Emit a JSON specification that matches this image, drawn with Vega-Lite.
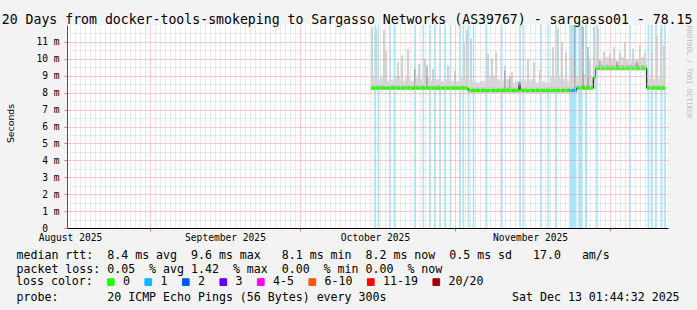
{
  "$schema": "https://vega.github.io/schema/vega-lite/v6.json",
  "width": 601,
  "height": 203,
  "autosize": {"type": "none"},
  "padding": {"left": 67, "top": 25, "right": 29, "bottom": 82},
  "background": "#f3f3f3",
  "view": {"fill": "#ffffff", "stroke": null},
  "title": {
    "text": "20 Days from docker-tools-smokeping to Sargasso Networks (AS39767) - sargasso01 - 78.15",
    "anchor": "start", "frame": "group", "dx": -65.3, "dy": 14.5, "offset": 1.7, "baseline": "alphabetic",
    "font": "DejaVu Sans Mono", "fontSize": 13.2, "fontWeight": "normal", "color": "#000000"
  },
  "datasets": {
    "loss": [
      {"t": "2025-09-30T20:00:00Z", "t2": "2025-10-01T04:00:00Z", "loss": "1"},
      {"t": "2025-10-01T11:50:00Z", "t2": "2025-10-01T19:50:00Z", "loss": "1"},
      {"t": "2025-10-03T20:00:00Z", "t2": "2025-10-04T04:00:00Z", "loss": "1"},
      {"t": "2025-10-04T17:36:00Z", "t2": "2025-10-05T01:36:00Z", "loss": "1"},
      {"t": "2025-10-08T20:00:00Z", "t2": "2025-10-09T04:00:00Z", "loss": "1"},
      {"t": "2025-10-10T11:50:00Z", "t2": "2025-10-10T19:50:00Z", "loss": "1"},
      {"t": "2025-10-11T20:00:00Z", "t2": "2025-10-12T04:00:00Z", "loss": "1"},
      {"t": "2025-10-12T20:00:00Z", "t2": "2025-10-13T04:00:00Z", "loss": "1"},
      {"t": "2025-10-13T20:00:00Z", "t2": "2025-10-14T04:00:00Z", "loss": "1"},
      {"t": "2025-10-14T20:00:00Z", "t2": "2025-10-15T04:00:00Z", "loss": "1"},
      {"t": "2025-10-15T22:24:00Z", "t2": "2025-10-16T06:24:00Z", "loss": "1"},
      {"t": "2025-10-17T20:00:00Z", "t2": "2025-10-18T04:00:00Z", "loss": "1"},
      {"t": "2025-10-18T11:50:00Z", "t2": "2025-10-18T19:50:00Z", "loss": "1"},
      {"t": "2025-10-19T12:48:00Z", "t2": "2025-10-19T20:48:00Z", "loss": "1"},
      {"t": "2025-10-20T12:48:00Z", "t2": "2025-10-20T20:48:00Z", "loss": "1"},
      {"t": "2025-10-23T03:12:00Z", "t2": "2025-10-23T11:12:00Z", "loss": "1"},
      {"t": "2025-10-26T04:10:00Z", "t2": "2025-10-26T12:10:00Z", "loss": "1"},
      {"t": "2025-10-29T20:00:00Z", "t2": "2025-10-30T04:00:00Z", "loss": "1"},
      {"t": "2025-10-30T11:50:00Z", "t2": "2025-10-30T19:50:00Z", "loss": "1"},
      {"t": "2025-11-03T00:48:00Z", "t2": "2025-11-03T08:48:00Z", "loss": "1"},
      {"t": "2025-11-04T11:50:00Z", "t2": "2025-11-04T19:50:00Z", "loss": "1"},
      {"t": "2025-11-06T00:48:00Z", "t2": "2025-11-06T08:48:00Z", "loss": "1"},
      {"t": "2025-11-08T20:38:00Z", "t2": "2025-11-10T07:12:00Z", "loss": "1"},
      {"t": "2025-11-10T15:50:00Z", "t2": "2025-11-11T12:00:00Z", "loss": "1"},
      {"t": "2025-11-12T00:00:00Z", "t2": "2025-11-12T09:36:00Z", "loss": "1"},
      {"t": "2025-11-14T05:36:00Z", "t2": "2025-11-14T13:36:00Z", "loss": "1"},
      {"t": "2025-11-20T20:00:00Z", "t2": "2025-11-21T04:00:00Z", "loss": "1"},
      {"t": "2025-11-24T11:50:00Z", "t2": "2025-11-24T19:50:00Z", "loss": "1"},
      {"t": "2025-11-25T05:36:00Z", "t2": "2025-11-25T13:36:00Z", "loss": "1"},
      {"t": "2025-11-26T00:48:00Z", "t2": "2025-11-26T08:48:00Z", "loss": "1"},
      {"t": "2025-11-27T04:10:00Z", "t2": "2025-11-27T12:10:00Z", "loss": "1"},
      {"t": "2025-11-27T20:00:00Z", "t2": "2025-11-28T04:00:00Z", "loss": "1"}
    ],
    "smoke": [
      {"t": "2025-09-30T04:48:00Z", "t2": "2025-10-01T00:00:00Z", "lo": 8.15, "mid": 8.5, "hi": 9.0},
      {"t": "2025-10-01T00:00:00Z", "t2": "2025-10-02T00:00:00Z", "lo": 8.15, "mid": 8.45, "hi": 8.8},
      {"t": "2025-10-02T00:00:00Z", "t2": "2025-10-03T00:00:00Z", "lo": 8.15, "mid": 8.45, "hi": 8.9},
      {"t": "2025-10-03T00:00:00Z", "t2": "2025-10-04T00:00:00Z", "lo": 8.15, "mid": 8.4, "hi": 8.7},
      {"t": "2025-10-04T00:00:00Z", "t2": "2025-10-05T00:00:00Z", "lo": 8.15, "mid": 8.45, "hi": 8.8},
      {"t": "2025-10-05T00:00:00Z", "t2": "2025-10-06T00:00:00Z", "lo": 8.15, "mid": 8.45, "hi": 9.0},
      {"t": "2025-10-06T00:00:00Z", "t2": "2025-10-07T00:00:00Z", "lo": 8.15, "mid": 8.4, "hi": 8.7},
      {"t": "2025-10-07T00:00:00Z", "t2": "2025-10-08T00:00:00Z", "lo": 8.15, "mid": 8.45, "hi": 8.9},
      {"t": "2025-10-08T00:00:00Z", "t2": "2025-10-09T00:00:00Z", "lo": 8.15, "mid": 8.4, "hi": 8.7},
      {"t": "2025-10-09T00:00:00Z", "t2": "2025-10-10T00:00:00Z", "lo": 8.15, "mid": 8.45, "hi": 8.9},
      {"t": "2025-10-10T00:00:00Z", "t2": "2025-10-11T00:00:00Z", "lo": 8.15, "mid": 8.45, "hi": 8.8},
      {"t": "2025-10-11T00:00:00Z", "t2": "2025-10-12T00:00:00Z", "lo": 8.15, "mid": 8.4, "hi": 8.9},
      {"t": "2025-10-12T00:00:00Z", "t2": "2025-10-13T00:00:00Z", "lo": 8.15, "mid": 8.4, "hi": 8.7},
      {"t": "2025-10-13T00:00:00Z", "t2": "2025-10-14T00:00:00Z", "lo": 8.15, "mid": 8.45, "hi": 8.8},
      {"t": "2025-10-14T00:00:00Z", "t2": "2025-10-15T00:00:00Z", "lo": 8.15, "mid": 8.4, "hi": 8.7},
      {"t": "2025-10-15T00:00:00Z", "t2": "2025-10-16T00:00:00Z", "lo": 8.15, "mid": 8.4, "hi": 8.8},
      {"t": "2025-10-16T00:00:00Z", "t2": "2025-10-17T00:00:00Z", "lo": 8.15, "mid": 8.4, "hi": 8.7},
      {"t": "2025-10-17T00:00:00Z", "t2": "2025-10-18T00:00:00Z", "lo": 8.15, "mid": 8.4, "hi": 8.7},
      {"t": "2025-10-18T00:00:00Z", "t2": "2025-10-19T00:00:00Z", "lo": 8.15, "mid": 8.45, "hi": 8.9},
      {"t": "2025-10-19T00:00:00Z", "t2": "2025-10-19T14:24:00Z", "lo": 8.15, "mid": 8.45, "hi": 9.0},
      {"t": "2025-10-19T14:24:00Z", "t2": "2025-10-20T00:00:00Z", "lo": 8.0, "mid": 8.3, "hi": 8.8},
      {"t": "2025-10-20T00:00:00Z", "t2": "2025-10-21T00:00:00Z", "lo": 8.0, "mid": 8.3, "hi": 8.7},
      {"t": "2025-10-21T00:00:00Z", "t2": "2025-10-22T00:00:00Z", "lo": 8.0, "mid": 8.3, "hi": 8.6},
      {"t": "2025-10-22T00:00:00Z", "t2": "2025-10-23T00:00:00Z", "lo": 8.0, "mid": 8.3, "hi": 8.7},
      {"t": "2025-10-23T00:00:00Z", "t2": "2025-10-24T00:00:00Z", "lo": 8.0, "mid": 8.35, "hi": 8.9},
      {"t": "2025-10-24T00:00:00Z", "t2": "2025-10-25T00:00:00Z", "lo": 8.0, "mid": 8.35, "hi": 9.0},
      {"t": "2025-10-25T00:00:00Z", "t2": "2025-10-26T00:00:00Z", "lo": 8.0, "mid": 8.3, "hi": 8.8},
      {"t": "2025-10-26T00:00:00Z", "t2": "2025-10-27T00:00:00Z", "lo": 8.0, "mid": 8.3, "hi": 8.7},
      {"t": "2025-10-27T00:00:00Z", "t2": "2025-10-28T00:00:00Z", "lo": 8.0, "mid": 8.3, "hi": 8.8},
      {"t": "2025-10-28T00:00:00Z", "t2": "2025-10-29T00:00:00Z", "lo": 8.0, "mid": 8.3, "hi": 8.6},
      {"t": "2025-10-29T00:00:00Z", "t2": "2025-10-30T00:00:00Z", "lo": 8.0, "mid": 8.3, "hi": 8.7},
      {"t": "2025-10-30T00:00:00Z", "t2": "2025-10-31T00:00:00Z", "lo": 8.0, "mid": 8.3, "hi": 8.8},
      {"t": "2025-10-31T00:00:00Z", "t2": "2025-11-01T00:00:00Z", "lo": 8.0, "mid": 8.3, "hi": 8.7},
      {"t": "2025-11-01T00:00:00Z", "t2": "2025-11-02T00:00:00Z", "lo": 8.0, "mid": 8.3, "hi": 8.8},
      {"t": "2025-11-02T00:00:00Z", "t2": "2025-11-03T00:00:00Z", "lo": 8.0, "mid": 8.3, "hi": 8.6},
      {"t": "2025-11-03T00:00:00Z", "t2": "2025-11-04T00:00:00Z", "lo": 8.0, "mid": 8.3, "hi": 8.7},
      {"t": "2025-11-04T00:00:00Z", "t2": "2025-11-05T00:00:00Z", "lo": 8.0, "mid": 8.3, "hi": 8.6},
      {"t": "2025-11-05T00:00:00Z", "t2": "2025-11-06T00:00:00Z", "lo": 8.0, "mid": 8.35, "hi": 8.9},
      {"t": "2025-11-06T00:00:00Z", "t2": "2025-11-07T00:00:00Z", "lo": 8.0, "mid": 8.35, "hi": 9.0},
      {"t": "2025-11-07T00:00:00Z", "t2": "2025-11-08T00:00:00Z", "lo": 8.0, "mid": 8.3, "hi": 8.8},
      {"t": "2025-11-08T00:00:00Z", "t2": "2025-11-09T00:00:00Z", "lo": 8.0, "mid": 8.3, "hi": 8.7},
      {"t": "2025-11-09T00:00:00Z", "t2": "2025-11-10T00:00:00Z", "lo": 8.0, "mid": 8.35, "hi": 8.9},
      {"t": "2025-11-10T00:00:00Z", "t2": "2025-11-10T08:10:00Z", "lo": 8.0, "mid": 8.35, "hi": 8.9},
      {"t": "2025-11-10T08:10:00Z", "t2": "2025-11-11T00:00:00Z", "lo": 8.15, "mid": 8.5, "hi": 9.0},
      {"t": "2025-11-11T00:00:00Z", "t2": "2025-11-12T00:00:00Z", "lo": 8.15, "mid": 8.5, "hi": 9.1},
      {"t": "2025-11-12T00:00:00Z", "t2": "2025-11-13T00:00:00Z", "lo": 8.15, "mid": 8.45, "hi": 8.9},
      {"t": "2025-11-13T00:00:00Z", "t2": "2025-11-13T15:50:00Z", "lo": 8.15, "mid": 8.45, "hi": 9.0},
      {"t": "2025-11-13T15:50:00Z", "t2": "2025-11-14T02:24:00Z", "lo": 8.2, "mid": 8.9, "hi": 9.6},
      {"t": "2025-11-14T02:24:00Z", "t2": "2025-11-15T00:00:00Z", "lo": 9.32, "mid": 9.65, "hi": 10.0},
      {"t": "2025-11-15T00:00:00Z", "t2": "2025-11-16T00:00:00Z", "lo": 9.32, "mid": 9.65, "hi": 9.9},
      {"t": "2025-11-16T00:00:00Z", "t2": "2025-11-17T00:00:00Z", "lo": 9.32, "mid": 9.65, "hi": 10.1},
      {"t": "2025-11-17T00:00:00Z", "t2": "2025-11-18T00:00:00Z", "lo": 9.32, "mid": 9.65, "hi": 10.0},
      {"t": "2025-11-18T00:00:00Z", "t2": "2025-11-19T00:00:00Z", "lo": 9.32, "mid": 9.65, "hi": 9.9},
      {"t": "2025-11-19T00:00:00Z", "t2": "2025-11-20T00:00:00Z", "lo": 9.32, "mid": 9.65, "hi": 10.1},
      {"t": "2025-11-20T00:00:00Z", "t2": "2025-11-21T00:00:00Z", "lo": 9.32, "mid": 9.65, "hi": 10.0},
      {"t": "2025-11-21T00:00:00Z", "t2": "2025-11-22T00:00:00Z", "lo": 9.32, "mid": 9.65, "hi": 9.9},
      {"t": "2025-11-22T00:00:00Z", "t2": "2025-11-23T00:00:00Z", "lo": 9.32, "mid": 9.65, "hi": 10.0},
      {"t": "2025-11-23T00:00:00Z", "t2": "2025-11-24T00:00:00Z", "lo": 9.32, "mid": 9.65, "hi": 10.1},
      {"t": "2025-11-24T00:00:00Z", "t2": "2025-11-24T08:10:00Z", "lo": 9.32, "mid": 9.65, "hi": 10.0},
      {"t": "2025-11-24T08:10:00Z", "t2": "2025-11-25T00:00:00Z", "lo": 8.15, "mid": 8.45, "hi": 8.9},
      {"t": "2025-11-25T00:00:00Z", "t2": "2025-11-26T00:00:00Z", "lo": 8.15, "mid": 8.45, "hi": 8.8},
      {"t": "2025-11-26T00:00:00Z", "t2": "2025-11-27T00:00:00Z", "lo": 8.15, "mid": 8.45, "hi": 8.9},
      {"t": "2025-11-27T00:00:00Z", "t2": "2025-11-28T00:00:00Z", "lo": 8.15, "mid": 8.45, "hi": 8.8}
    ],
    "spikes": [
      {"t": "2025-09-30T09:36:00Z", "lo": 8.2, "hi": 11.9},
      {"t": "2025-10-01T04:48:00Z", "lo": 8.2, "hi": 11.8},
      {"t": "2025-10-02T19:12:00Z", "lo": 8.2, "hi": 11.7},
      {"t": "2025-10-03T04:48:00Z", "lo": 8.2, "hi": 10.5},
      {"t": "2025-10-05T14:24:00Z", "lo": 8.2, "hi": 9.8},
      {"t": "2025-10-06T09:36:00Z", "lo": 8.2, "hi": 10.2},
      {"t": "2025-10-07T14:24:00Z", "lo": 8.2, "hi": 10.6},
      {"t": "2025-10-09T19:12:00Z", "lo": 8.2, "hi": 9.7},
      {"t": "2025-10-11T00:00:00Z", "lo": 8.2, "hi": 10.0},
      {"t": "2025-10-12T14:24:00Z", "lo": 8.2, "hi": 9.4},
      {"t": "2025-10-15T14:24:00Z", "lo": 8.2, "hi": 9.6},
      {"t": "2025-10-17T00:00:00Z", "lo": 8.2, "hi": 9.3},
      {"t": "2025-10-18T19:12:00Z", "lo": 8.2, "hi": 10.9},
      {"t": "2025-10-19T09:36:00Z", "lo": 8.2, "hi": 11.7},
      {"t": "2025-10-20T04:48:00Z", "lo": 8.05, "hi": 11.2},
      {"t": "2025-10-23T14:24:00Z", "lo": 8.05, "hi": 10.3},
      {"t": "2025-10-24T09:36:00Z", "lo": 8.05, "hi": 10.0},
      {"t": "2025-10-25T04:48:00Z", "lo": 8.05, "hi": 10.4},
      {"t": "2025-10-27T00:00:00Z", "lo": 8.05, "hi": 9.6},
      {"t": "2025-10-28T09:36:00Z", "lo": 8.05, "hi": 9.2},
      {"t": "2025-10-31T14:24:00Z", "lo": 8.05, "hi": 10.0},
      {"t": "2025-11-01T19:12:00Z", "lo": 8.05, "hi": 9.8},
      {"t": "2025-11-03T00:00:00Z", "lo": 8.05, "hi": 9.4},
      {"t": "2025-11-05T14:24:00Z", "lo": 8.05, "hi": 10.7},
      {"t": "2025-11-06T14:24:00Z", "lo": 8.05, "hi": 11.8},
      {"t": "2025-11-07T09:36:00Z", "lo": 8.05, "hi": 11.0},
      {"t": "2025-11-08T04:48:00Z", "lo": 8.05, "hi": 10.4},
      {"t": "2025-11-09T09:36:00Z", "lo": 8.05, "hi": 10.2},
      {"t": "2025-11-11T00:00:00Z", "lo": 8.2, "hi": 10.6},
      {"t": "2025-11-13T00:00:00Z", "lo": 8.2, "hi": 10.0},
      {"t": "2025-11-13T19:12:00Z", "lo": 8.2, "hi": 11.9},
      {"t": "2025-11-14T14:24:00Z", "lo": 9.4, "hi": 11.8},
      {"t": "2025-11-15T19:12:00Z", "lo": 9.4, "hi": 10.4},
      {"t": "2025-11-17T00:00:00Z", "lo": 9.4, "hi": 10.3},
      {"t": "2025-11-17T19:12:00Z", "lo": 9.4, "hi": 10.7},
      {"t": "2025-11-19T00:00:00Z", "lo": 9.4, "hi": 10.4},
      {"t": "2025-11-20T00:00:00Z", "lo": 9.4, "hi": 11.0},
      {"t": "2025-11-21T14:24:00Z", "lo": 9.4, "hi": 10.6},
      {"t": "2025-11-23T00:00:00Z", "lo": 9.4, "hi": 10.8},
      {"t": "2025-11-24T00:00:00Z", "lo": 9.4, "hi": 10.4},
      {"t": "2025-11-25T09:36:00Z", "lo": 8.2, "hi": 10.4},
      {"t": "2025-11-26T09:36:00Z", "lo": 8.2, "hi": 11.4},
      {"t": "2025-11-27T04:48:00Z", "lo": 8.2, "hi": 11.7},
      {"t": "2025-11-27T19:12:00Z", "lo": 8.2, "hi": 10.8}
    ],
    "darkspikes": [
      {"t": "2025-10-09T00:00:00Z", "lo": 8.28, "hi": 9.4},
      {"t": "2025-10-11T09:36:00Z", "lo": 8.28, "hi": 9.6},
      {"t": "2025-10-27T00:00:00Z", "lo": 8.13, "hi": 9.3},
      {"t": "2025-10-28T00:00:00Z", "lo": 8.13, "hi": 9.0},
      {"t": "2025-11-10T00:00:00Z", "lo": 8.13, "hi": 12.0},
      {"t": "2025-11-11T14:24:00Z", "lo": 8.28, "hi": 11.9},
      {"t": "2025-11-12T14:24:00Z", "lo": 8.28, "hi": 10.7},
      {"t": "2025-11-15T00:00:00Z", "lo": 9.46, "hi": 9.9},
      {"t": "2025-11-18T09:36:00Z", "lo": 9.46, "hi": 9.8},
      {"t": "2025-11-22T09:36:00Z", "lo": 9.46, "hi": 9.8}
    ],
    "median": [
      {"t": "2025-09-30T04:48:00Z", "t2": "2025-10-19T14:24:00Z", "ms": 8.28, "loss": "0"},
      {"t": "2025-10-19T14:24:00Z", "t2": "2025-10-29T19:12:00Z", "ms": 8.13, "loss": "0"},
      {"t": "2025-10-29T19:12:00Z", "t2": "2025-10-30T02:24:00Z", "ms": 8.55, "loss": "1"},
      {"t": "2025-10-30T02:24:00Z", "t2": "2025-11-08T19:12:00Z", "ms": 8.13, "loss": "0"},
      {"t": "2025-11-08T19:12:00Z", "t2": "2025-11-10T08:10:00Z", "ms": 8.13, "loss": "1"},
      {"t": "2025-11-10T08:10:00Z", "t2": "2025-11-13T15:50:00Z", "ms": 8.28, "loss": "0"},
      {"t": "2025-11-13T15:50:00Z", "t2": "2025-11-14T02:24:00Z", "ms": 8.88, "loss": "0"},
      {"t": "2025-11-14T02:24:00Z", "t2": "2025-11-24T08:10:00Z", "ms": 9.46, "loss": "0"},
      {"t": "2025-11-24T08:10:00Z", "t2": "2025-11-28T00:00:00Z", "ms": 8.28, "loss": "0"},
      {"t": "2025-11-28T00:00:00Z", "t2": "2025-11-28T00:00:00Z", "ms": 8.28, "loss": "0"}
    ]
  },
  "encoding": {
    "x": {
      "field": "t", "type": "temporal", "axis": null,
      "scale": {"type": "utc", "domain": [
        {"year": 2025, "month": "jul", "date": 31, "hours": 9, "minutes": 36, "utc": true},
        {"year": 2025, "month": "nov", "date": 28, "hours": 14, "minutes": 24, "utc": true}
      ]}
    }
  },
  "resolve": {"axis": {"x": "independent", "y": "independent"}},
  "layer": [
    {
      "data": {"name": "loss"},
      "mark": {"type": "rect", "opacity": 0.35},
      "encoding": {
        "x": {
          "field": "t", "type": "temporal",
          "scale": {"type": "utc", "domain": [
            {"year": 2025, "month": "jul", "date": 31, "hours": 9, "minutes": 36, "utc": true},
            {"year": 2025, "month": "nov", "date": 28, "hours": 14, "minutes": 24, "utc": true}
          ]},
          "axis": {
            "tickCount": {"interval": "day", "step": 1},
            "labelExpr": "utcdate(datum.value) == 1 ? utcFormat(datum.value, '%B %Y') : ''",
            "labelOverlap": false, "labelFlush": false, "labelBound": false,
            "labelFont": "DejaVu Sans Mono", "labelFontSize": 9.6, "labelColor": "#000000", "labelPadding": 1,
            "tickSize": 3,
            "tickColor": {"condition": {"test": "indexof(['08-17','09-16','10-17','11-17'], utcFormat(datum.value, '%m-%d')) >= 0", "value": "#e07070"}, "value": "rgba(0,0,0,0)"},
            "grid": true,
            "gridColor": {"condition": {"test": "indexof(['08-17','09-16','10-17','11-17'], utcFormat(datum.value, '%m-%d')) >= 0", "value": "#f09a9a"}, "value": "#d4d4d4"},
            "gridDash": [1, 1], "gridWidth": 1,
            "domainColor": "#000000", "domainWidth": 1,
            "title": [
              "median rtt:\u00a0\u00a08.4 ms avg\u00a0\u00a09.6 ms max\u00a0\u00a0\u00a08.1 ms min\u00a0\u00a08.2 ms now\u00a0\u00a00.5 ms sd\u00a0\u00a0\u00a017.0\u00a0\u00a0\u00a0am/s",
              "packet loss: 0.05\u00a0\u00a0% avg 1.42\u00a0\u00a0% max\u00a0\u00a00.00\u00a0\u00a0% min 0.00\u00a0\u00a0% now",
              "\u200b",
              "probe:\u00a0\u00a0\u00a0\u00a0\u00a0\u00a0\u00a020 ICMP Echo Pings (56 Bytes) every 300s\u00a0\u00a0\u00a0\u00a0\u00a0\u00a0\u00a0\u00a0\u00a0\u00a0\u00a0\u00a0\u00a0\u00a0\u00a0\u00a0\u00a0\u00a0Sat Dec 13 01:44:32 2025"
            ],
            "titleX": -51, "titleY": 30, "titleAlign": "left", "titleAnchor": "start", "titleBaseline": "alphabetic",
            "titleFont": "DejaVu Sans Mono", "titleFontSize": 11.6, "titleFontWeight": "normal", "titleColor": "#000000",
            "titleLineHeight": 14,
            "zindex": 1
          }
        },
        "x2": {"field": "t2"},
        "color": {
          "field": "loss", "type": "nominal",
          "scale": {
            "domain": ["0", "1", "2", "3", "4-5", "6-10", "11-19", "20/20"],
            "range": ["#26ff00", "#00b8ff", "#0059ff", "#5e00ff", "#ff00ff", "#ff5500", "#ff0000", "#a10000"]
          },
          "legend": {
            "orient": "none", "legendX": -51, "legendY": 251, "direction": "horizontal",
            "title": "loss color:", "titleOrient": "left", "titlePadding": 12,
            "titleFont": "DejaVu Sans Mono", "titleFontSize": 11.6, "titleFontWeight": "normal", "titleColor": "#000000",
            "titleBaseline": "middle", "titleAnchor": "middle",
            "symbolType": "square", "symbolSize": 45, "symbolStrokeColor": "#000000", "symbolStrokeWidth": 1, "symbolOpacity": 1,
            "labelFont": "DejaVu Sans Mono", "labelFontSize": 11.6, "labelColor": "#000000", "labelOffset": 6.5,
            "columnPadding": 11.5, "padding": 0
          }
        }
      }
    },
    {
      "data": {"name": "smoke"},
      "mark": {"type": "rect", "color": "#dadada"},
      "encoding": {
        "x2": {"field": "t2"},
        "y": {
          "field": "lo", "type": "quantitative",
          "scale": {"domain": [0, 12], "nice": false, "zero": true},
          "axis": {
            "values": [0, 0.5, 1, 1.5, 2, 2.5, 3, 3.5, 4, 4.5, 5, 5.5, 6, 6.5, 7, 7.5, 8, 8.5, 9, 9.5, 10, 10.5, 11, 11.5],
            "labelExpr": "datum.value == 0 ? '0\u00a0\u00a0\u200b' : (datum.value % 1 == 0 ? datum.value + ' m' : '')",
            "labelFont": "DejaVu Sans Mono", "labelFontSize": 9.6, "labelColor": "#000000", "labelPadding": 5,
            "tickSize": 3,
            "tickColor": {"condition": {"test": "datum.value % 1 == 0", "value": "#e07070"}, "value": "rgba(0,0,0,0)"},
            "grid": true,
            "gridColor": {"condition": {"test": "datum.value % 1 == 0", "value": "#f09a9a"}, "value": "#d4d4d4"},
            "gridDash": [1, 1], "gridWidth": 1,
            "domainColor": "#555555", "domainWidth": 1,
            "title": "Seconds", "titleFont": "DejaVu Sans", "titleFontSize": 9.3, "titleFontWeight": "normal", "titleColor": "#000000",
            "titleX": -57, "titleY": 98, "titleAngle": 270, "titleAlign": "center", "titleBaseline": "middle",
            "zindex": 1
          }
        },
        "y2": {"field": "hi"}
      }
    },
    {
      "data": {"name": "smoke"},
      "mark": {"type": "rect", "color": "#c2c2c2"},
      "encoding": {
        "x2": {"field": "t2"},
        "y": {
          "field": "lo", "type": "quantitative",
          "axis": {
            "orient": "right", "labels": false, "ticks": false, "domain": false, "grid": false,
            "title": "RRDTOOL / TOBI OETIKER", "titleX": 20, "titleY": 0, "titleAngle": 90,
            "titleAlign": "left", "titleBaseline": "middle",
            "titleFont": "DejaVu Sans Mono", "titleFontSize": 7, "titleFontWeight": "normal", "titleColor": "#bdbdbd"
          }
        },
        "y2": {"field": "mid"}
      }
    },
    {
      "data": {"name": "spikes"},
      "mark": {"type": "rule", "color": "#d2d2d2", "strokeWidth": 2},
      "encoding": {
        "y": {"field": "lo", "type": "quantitative", "axis": null},
        "y2": {"field": "hi"}
      }
    },
    {
      "data": {"name": "darkspikes"},
      "mark": {"type": "rule", "color": "#808080", "strokeWidth": 1},
      "encoding": {
        "y": {"field": "lo", "type": "quantitative", "axis": null},
        "y2": {"field": "hi"}
      }
    },
    {
      "data": {"name": "median"},
      "mark": {"type": "line", "color": "#000000", "strokeWidth": 1, "interpolate": "step-after"},
      "encoding": {
        "y": {"field": "ms", "type": "quantitative", "axis": null}
      }
    },
    {
      "data": {"name": "median"},
      "mark": {"type": "rule", "strokeWidth": 3},
      "encoding": {
        "x2": {"field": "t2"},
        "y": {"field": "ms", "type": "quantitative", "axis": null},
        "stroke": {
          "field": "loss", "type": "nominal", "legend": null,
          "scale": {
            "domain": ["0", "1", "2", "3", "4-5", "6-10", "11-19", "20/20"],
            "range": ["#26ff00", "#00b8ff", "#0059ff", "#5e00ff", "#ff00ff", "#ff5500", "#ff0000", "#a10000"]
          }
        }
      }
    },
    {
      "data": {"values": [{}]},
      "mark": {"type": "point", "shape": "triangle-up", "filled": true, "color": "#7a1414", "size": 22, "opacity": 1, "yOffset": -1.5},
      "encoding": {
        "x": {"datum": {"year": 2025, "month": "jul", "date": 31, "hours": 9, "minutes": 36, "utc": true}, "type": "temporal", "axis": null},
        "y": {"datum": 12, "type": "quantitative", "axis": null}
      }
    },
    {
      "data": {"values": [{}]},
      "mark": {"type": "point", "shape": "triangle-right", "filled": true, "color": "#7a1414", "size": 22, "opacity": 1, "xOffset": 3},
      "encoding": {
        "x": {"datum": {"year": 2025, "month": "nov", "date": 28, "hours": 14, "minutes": 24, "utc": true}, "type": "temporal", "axis": null},
        "y": {"datum": 0, "type": "quantitative", "axis": null}
      }
    }
  ]
}
